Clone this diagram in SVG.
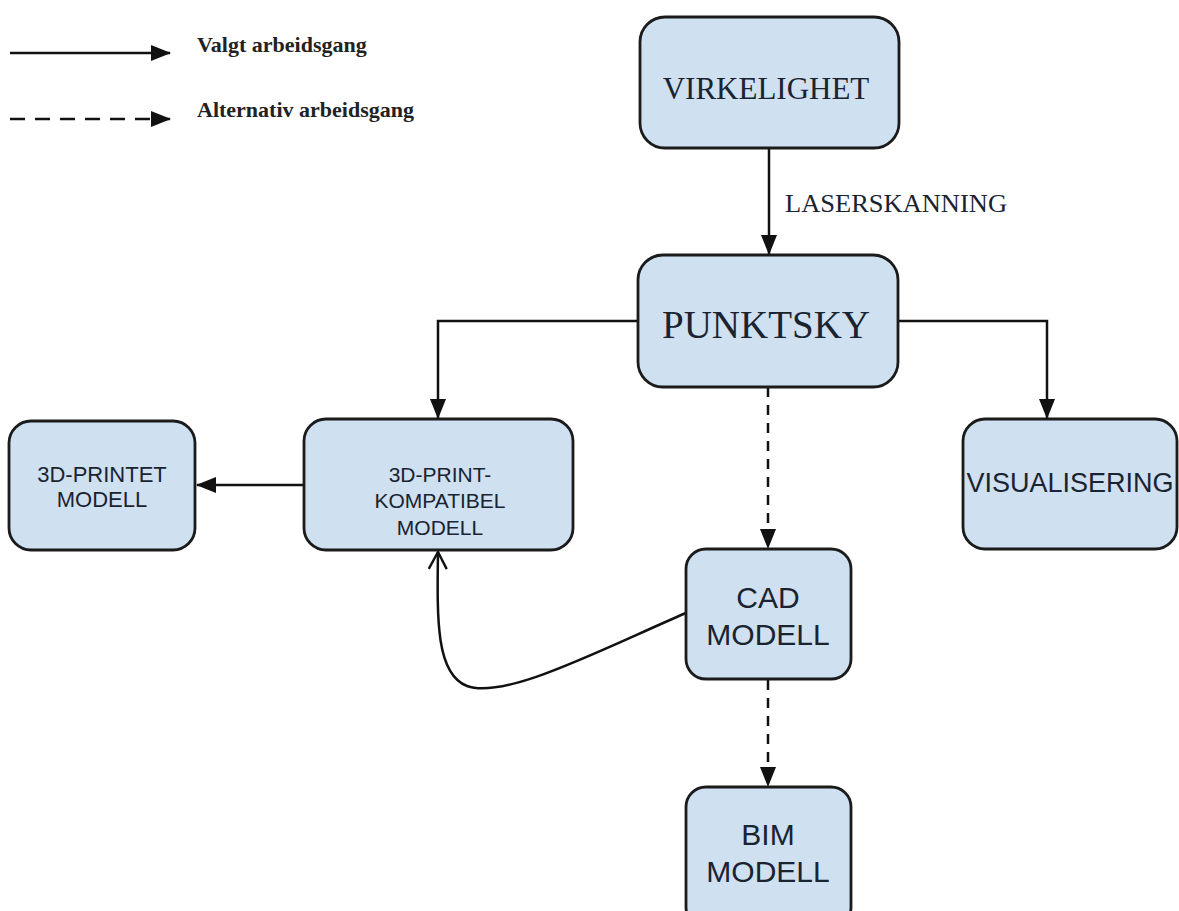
<svg xmlns="http://www.w3.org/2000/svg" width="1179" height="911" viewBox="0 0 1179 911">
<style>
.box{fill:#cfe0f1;stroke:#1b1b1b;stroke-width:2.8}
.ln{fill:none;stroke:#111;stroke-width:2.5}
.dash{stroke-dasharray:10 8}
.serif{font-family:"Liberation Serif","Times New Roman",serif;fill:#1a2330}
.sans{font-family:"Liberation Sans",Arial,sans-serif;fill:#1a2330}
.leg{font-family:"Liberation Serif","Times New Roman",serif;font-weight:bold;font-size:22px;fill:#222}
</style>
<defs>
<marker id="arr" viewBox="0 0 20 16" refX="19" refY="8" markerWidth="20" markerHeight="16" markerUnits="userSpaceOnUse" orient="auto">
<path d="M0,0 L20,8 L0,16 z" fill="#111"/>
</marker>
<marker id="open" viewBox="0 0 20 20" refX="18" refY="10" markerWidth="20" markerHeight="20" markerUnits="userSpaceOnUse" orient="auto">
<path d="M1,1 L18,10 L1,19" fill="none" stroke="#111" stroke-width="2.4"/>
</marker>
</defs>
<rect width="1179" height="911" fill="#ffffff"/>

<g id="legend">
<line class="ln" x1="10" y1="53" x2="170" y2="53" stroke-width="3" marker-end="url(#arr)"/>
<text class="leg" x="197" y="52">Valgt arbeidsgang</text>
<line class="ln" x1="10" y1="119" x2="170" y2="119" stroke-width="3" stroke-dasharray="15 10" marker-end="url(#arr)"/>
<text class="leg" x="197" y="117">Alternativ arbeidsgang</text>
</g>

<g id="connectors">
<line class="ln" x1="769" y1="148" x2="769" y2="254" marker-end="url(#arr)"/>
<polyline class="ln" points="638,321 438,321 438,418" marker-end="url(#arr)"/>
<polyline class="ln" points="898,321 1047,321 1047,418" marker-end="url(#arr)"/>
<line class="ln dash" x1="768" y1="387" x2="768" y2="548" marker-end="url(#arr)"/>
<line class="ln dash" x1="768" y1="680" x2="768" y2="786" marker-end="url(#arr)"/>
<line class="ln" x1="304" y1="485" x2="197" y2="485" marker-end="url(#arr)"/>
<path class="ln" d="M686,613 C600,650 505,700 467,686 C436,674 437,620 438,552" marker-end="url(#open)"/>
<text class="serif" x="785" y="212" font-size="26" textLength="222" lengthAdjust="spacingAndGlyphs">LASERSKANNING</text>
</g>

<g id="virkelighet">
<rect class="box" x="640" y="17" width="259" height="131" rx="25"/>
<text class="serif" x="766" y="99" font-size="31" text-anchor="middle">VIRKELIGHET</text>
</g>

<g id="punktsky">
<rect class="box" x="638" y="255" width="260" height="132" rx="25"/>
<text class="serif" x="766" y="338" font-size="39" text-anchor="middle">PUNKTSKY</text>
</g>

<g id="printet">
<rect class="box" x="9" y="421" width="186" height="129" rx="22"/>
<text class="sans" x="102" y="482" font-size="22" text-anchor="middle">3D-PRINTET</text>
<text class="sans" x="102" y="507" font-size="22" text-anchor="middle">MODELL</text>
</g>

<g id="kompatibel">
<rect class="box" x="304" y="419" width="269" height="131" rx="22"/>
<text class="sans" x="440" y="482" font-size="21" text-anchor="middle">3D-PRINT-</text>
<text class="sans" x="440" y="508" font-size="21" text-anchor="middle">KOMPATIBEL</text>
<text class="sans" x="440" y="535" font-size="21" text-anchor="middle">MODELL</text>
</g>

<g id="visualisering">
<rect class="box" x="963" y="419" width="214" height="130" rx="22"/>
<text class="sans" x="1070" y="492" font-size="27" text-anchor="middle">VISUALISERING</text>
</g>

<g id="cad">
<rect class="box" x="686" y="549" width="165" height="130" rx="20"/>
<text class="sans" x="768" y="608" font-size="30" text-anchor="middle">CAD</text>
<text class="sans" x="768" y="645" font-size="30" text-anchor="middle">MODELL</text>
</g>

<g id="bim">
<rect class="box" x="686" y="787" width="165" height="140" rx="20"/>
<text class="sans" x="768" y="845" font-size="30" text-anchor="middle">BIM</text>
<text class="sans" x="768" y="882" font-size="30" text-anchor="middle">MODELL</text>
</g>
</svg>
